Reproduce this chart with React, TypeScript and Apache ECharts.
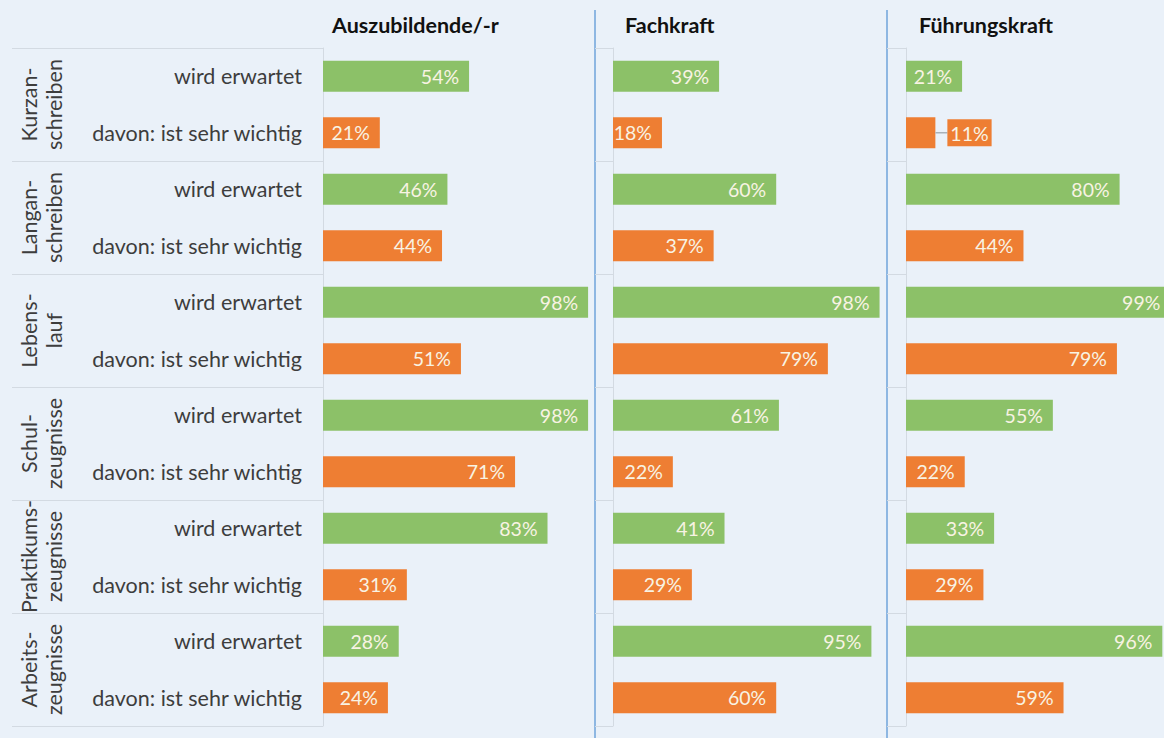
import React, { useEffect, useRef } from "react";
import * as echarts from "echarts";

// ---- data ----
const profiles = ["Auszubildende/-r", "Fachkraft", "Führungskraft"];
const documents = [
  "Kurzan-\nschreiben",
  "Langan-\nschreiben",
  "Lebens-\nlauf",
  "Schul-\nzeugnisse",
  "Praktikums-\nzeugnisse",
  "Arbeits-\nzeugnisse",
];
const rowLabels = ["wird erwartet", "davon: ist sehr wichtig"];

const expectedAzubi = [54, 46, 98, 98, 83, 28];
const importantAzubi = [21, 44, 51, 71, 31, 24];
const expectedFach = [39, 60, 98, 61, 41, 95];
const importantFach = [18, 37, 79, 22, 29, 60];
const expectedFuehrung = [21, 80, 99, 55, 33, 96];
const importantFuehrung = [11, 44, 79, 22, 29, 59];

const panelData = [
  [expectedAzubi, importantAzubi],
  [expectedFach, importantFach],
  [expectedFuehrung, importantFuehrung],
];

// ---- style ----
const FONT = "Lato";
const GREEN = "#8cc168";
const ORANGE = "#ee7e33";
const LABEL_COLOR = "#f8f3e3";
const BG = "#eaf1f9";
const GRID_LINE = "#d3dae2";

const panels = [
  { left: 323, width: 270.5, tick: 311, divider: null as number | null, titleDx: 9 },
  { left: 613, width: 272, tick: 18, divider: 595, titleDx: 12 },
  { left: 906, width: 267, tick: 19, divider: 887, titleDx: 13 },
];
const TOP = 48;
const HEIGHT = 678;

export default function App() {
  const ref = useRef<HTMLDivElement>(null);

  useEffect(() => {
    document.body.style.margin = "0";
    const chart = echarts.init(ref.current!, null, { renderer: "svg" });

    const rowCats: string[] = [];
    documents.forEach((_, d) => rowLabels.forEach((_, r) => rowCats.push(`${d}-${r}`)));

    const grids: any[] = [];
    const xAxes: any[] = [];
    const yAxes: any[] = [];
    const series: any[] = [];
    const titles: any[] = [];
    const graphics: any[] = [];

    panels.forEach((p, i) => {
      grids.push({
        left: p.left,
        top: TOP,
        width: p.width,
        height: HEIGHT,
        containLabel: false,
        outerBoundsMode: "none",
      });
      xAxes.push({ type: "value", gridIndex: i, min: 0, max: 100, show: false });
      // rows axis
      yAxes.push({
        type: "category",
        gridIndex: i,
        position: "left",
        inverse: true,
        data: rowCats,
        axisLine: { show: true, lineStyle: { color: GRID_LINE, width: 1 } },
        axisTick: { show: false },
        splitLine: { show: false },
        axisLabel: {
          show: i === 0,
          interval: 0,
          margin: 21,
          fontFamily: FONT,
          fontSize: 21.5,
          color: "#3d3d3d",
          formatter: (_v: string, idx: number) => rowLabels[idx % rowLabels.length],
        },
      });
      // groups axis
      yAxes.push({
        type: "category",
        gridIndex: i,
        position: "left",
        inverse: true,
        data: documents,
        axisLine: { show: false },
        axisTick: {
          show: true,
          interval: 0,
          length: p.tick,
          lineStyle: { color: GRID_LINE, width: 1 },
        },
        splitLine: { show: false },
        axisLabel: {
          show: i === 0,
          interval: 0,
          rotate: 90,
          margin: 257,
          fontFamily: FONT,
          fontSize: 21.5,
          lineHeight: 25,
          color: "#3d3d3d",
        },
      });

      const [exp, imp] = panelData[i];
      const data: any[] = [];
      exp.forEach((_, d) => {
        [exp[d], imp[d]].forEach((v, r) => {
          const color = r === 0 ? GREEN : ORANGE;
          const item: any = { value: v, itemStyle: { color } };
          if (v < 15) {
            item.label = {
              position: "right",
              distance: 0,
              formatter: (pp: any) => `{l| }{b|${pp.value}%}`,
              rich: {
                l: { width: 12, height: 1.5, backgroundColor: "#a9b1b9" },
                b: {
                  backgroundColor: color,
                  color: LABEL_COLOR,
                  fontFamily: FONT,
                  fontSize: 19.5,
                  padding: [4, 3, 3, 3],
                },
              },
            };
          }
          data.push(item);
        });
      });

      series.push({
        type: "bar",
        xAxisIndex: i,
        yAxisIndex: i * 2,
        barWidth: 31,
        data,
        label: {
          show: true,
          position: "insideRight",
          distance: 10,
          color: LABEL_COLOR,
          fontFamily: FONT,
          fontSize: 19.5,
          formatter: (pp: any) => `${pp.value}%`,
        },
      });

      titles.push({
        text: profiles[i],
        left: p.left + p.titleDx,
        top: 14,
        padding: 0,
        textStyle: { fontFamily: FONT, fontWeight: "bold", fontSize: 21.5, color: "#111" },
      });

      if (p.divider !== null) {
        graphics.push({
          type: "line",
          shape: { x1: p.divider, y1: 10, x2: p.divider, y2: 738 },
          style: { stroke: "#6fa3da", lineWidth: 1.5 },
          silent: true,
        });
      }
    });

    chart.setOption({
      animation: false,
      backgroundColor: BG,
      title: titles,
      grid: grids,
      xAxis: xAxes,
      yAxis: yAxes,
      series,
      graphic: graphics,
    });

    return () => chart.dispose();
  }, []);

  return <div ref={ref} style={{ width: 1164, height: 738 }} />;
}
